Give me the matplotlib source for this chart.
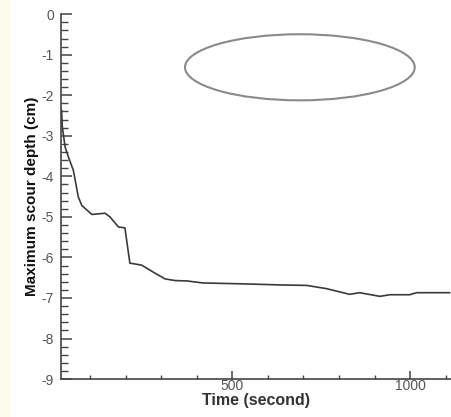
import matplotlib
matplotlib.use("Agg")
import matplotlib.pyplot as plt
from matplotlib.patches import Ellipse, Rectangle
from matplotlib.ticker import MultipleLocator

plt.rcParams['font.family'] = ['Liberation Sans', 'DejaVu Sans']
plt.rcParams['axes.unicode_minus'] = False

# data
time_s = [20, 22, 30, 39, 53, 67, 77, 105, 142, 156, 180, 198, 212, 245, 283,
          311, 339, 372, 418, 521, 643, 709, 765, 830, 858, 915, 943, 999,
          1018, 1111]
depth_cm = [-2.37, -2.78, -3.28, -3.52, -3.85, -4.51, -4.72, -4.94, -4.91,
            -5.0, -5.25, -5.27, -6.14, -6.19, -6.39, -6.53, -6.57, -6.58,
            -6.63, -6.65, -6.68, -6.69, -6.77, -6.91, -6.87, -6.96, -6.92,
            -6.92, -6.87, -6.87]

fig = plt.figure(figsize=(4.51, 4.17), dpi=100)
fig.patch.set_facecolor("white")
fig.patches.append(Rectangle((0, 0), 0.025, 1, transform=fig.transFigure,
                             facecolor="#fefcef", edgecolor="none", zorder=0))

ax = fig.add_axes([0.135, 0.091, 0.865, 0.875])
ax.set_facecolor("none")
ax.plot(time_s, depth_cm, color="#3a3a3a", lw=1.2)

ax.add_patch(Ellipse((690, -1.31), 646, 1.63, facecolor="none",
                     edgecolor="#8a8a8a", lw=1.5))

ax.set_xlim(18, 1115)
ax.set_ylim(-9, 0)
ax.xaxis.set_major_locator(MultipleLocator(500))
ax.xaxis.set_minor_locator(MultipleLocator(100))
ax.yaxis.set_major_locator(MultipleLocator(1))
ax.yaxis.set_minor_locator(MultipleLocator(0.2))

for s in ["top", "right"]:
    ax.spines[s].set_visible(False)
for s in ["left", "bottom"]:
    ax.spines[s].set_color("#444444")
    ax.spines[s].set_linewidth(1.2)

ax.tick_params(which="both", direction="in", color="#444444", labelcolor="#555555",
               labelsize=10)
ax.tick_params(axis="y", which="major", length=8, width=1.1, pad=5)
ax.tick_params(axis="y", which="minor", length=5, width=1.0)
ax.tick_params(axis="x", which="major", length=6, width=1.1, pad=0)
ax.tick_params(axis="x", which="minor", length=3, width=1.0)

ax.set_xlabel("Time (second)", fontsize=11.5, fontweight="bold", color="#333333",
              labelpad=0)
ax.set_ylabel("Maximum scour depth (cm)", fontsize=11, fontweight="bold",
              color="#111111", labelpad=2)

fig.savefig("out.png", dpi=100)
